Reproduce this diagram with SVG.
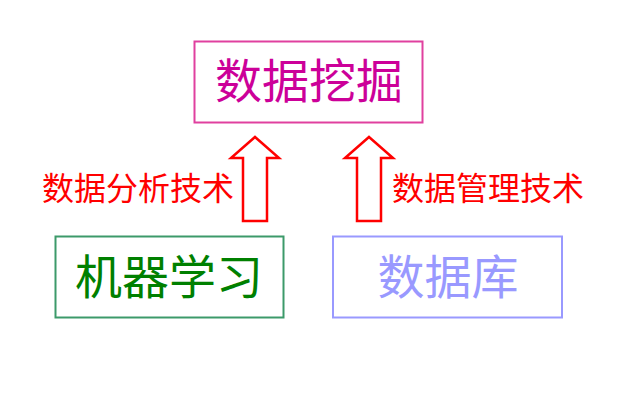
<svg xmlns="http://www.w3.org/2000/svg" width="643" height="402" viewBox="0 0 643 402">
<style>
text{font-family:"Noto Sans CJK SC","Noto Sans",sans-serif;text-anchor:middle}
.big{font-size:47px}
.lbl{font-size:32px;fill:#FF0000}
.arrow{fill:#FFFFFF;stroke:#FF0000;stroke-width:2.5}
</style>
<rect width="643" height="402" fill="#FFFFFF"/>
<g id="node-mining">
<rect x="194.5" y="41.5" width="228" height="81" fill="#FFFFFF" stroke="#E0409F" stroke-width="2"/>
<text class="big" x="309" y="98" fill="#CC0099">数据挖掘</text>
</g>
<g id="node-ml">
<rect x="55.5" y="236.5" width="228" height="81" fill="#FFFFFF" stroke="#3C9A6A" stroke-width="2"/>
<text class="big" x="169" y="294" fill="#008000">机器学习</text>
</g>
<g id="node-db">
<rect x="333" y="236.5" width="229" height="81" fill="#FFFFFF" stroke="#9999FF" stroke-width="2"/>
<text class="big" x="448" y="294" fill="#9999FF">数据库</text>
</g>
<g id="connectors">
<polygon class="arrow" points="255,137 279,158 267,158 267,221 243,221 243,158 231,158"/>
<polygon class="arrow" points="369,137 393,158 381,158 381,221 357,221 357,158 345,158"/>
<text class="lbl" x="138" y="200">数据分析技术</text>
<text class="lbl" x="488" y="200">数据管理技术</text>
</g>
</svg>
